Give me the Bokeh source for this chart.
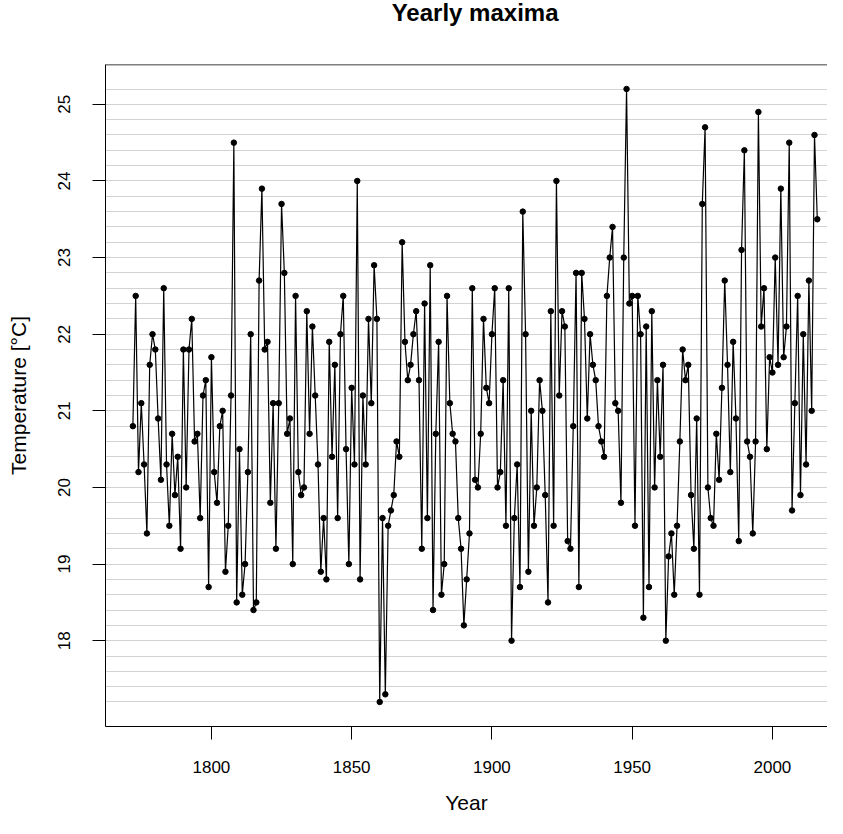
from bokeh.plotting import figure
from bokeh.layouts import column
from bokeh.models import Range1d, FixedTicker, Label, Span
from bokeh.embed import file_html
from bokeh.resources import INLINE

first_year = 1772

temps_1700s = [20.8, 22.5, 20.2, 21.1, 20.3, 19.4, 21.6, 22.0, 21.8, 20.9,
               20.1, 22.6, 20.3, 19.5, 20.7, 19.9, 20.4, 19.2, 21.8, 20.0,
               21.8, 22.2, 20.6, 20.7, 19.6, 21.2, 21.4, 18.7]
temps_1800s = [21.7, 20.2, 19.8, 20.8, 21.0, 18.9, 19.5, 21.2, 24.5, 18.5,
               20.5, 18.6, 19.0, 20.2, 22.0, 18.4, 18.5, 22.7, 23.9, 21.8,
               21.9, 19.8, 21.1, 19.2, 21.1, 23.7, 22.8, 20.7, 20.9, 19.0,
               22.5, 20.2, 19.9, 20.0, 22.3, 20.7, 22.1, 21.2, 20.3, 18.9,
               19.6, 18.8, 21.9, 20.4, 21.6, 19.6, 22.0, 22.5, 20.5, 19.0,
               21.3, 20.3, 24.0, 18.8, 21.2, 20.3, 22.2, 21.1, 22.9, 22.2,
               17.2, 19.6, 17.3, 19.5, 19.7, 19.9, 20.6, 20.4, 23.2, 21.9,
               21.4, 21.6, 22.0, 22.3, 21.4, 19.2, 22.4, 19.6, 22.9, 18.4,
               20.7, 21.9, 18.6, 19.0, 22.5, 21.1, 20.7, 20.6, 19.6, 19.2,
               18.2, 18.8, 19.4, 22.6, 20.1, 20.0, 20.7, 22.2, 21.3, 21.1]
temps_1900s = [22.0, 22.6, 20.0, 20.2, 21.4, 19.5, 22.6, 18.0, 19.6, 20.3,
               18.7, 23.6, 22.0, 18.9, 21.0, 19.5, 20.0, 21.4, 21.0, 19.9,
               18.5, 22.3, 19.5, 24.0, 21.2, 22.3, 22.1, 19.3, 19.2, 20.8,
               22.8, 18.7, 22.8, 22.2, 20.9, 22.0, 21.6, 21.4, 20.8, 20.6,
               20.4, 22.5, 23.0, 23.4, 21.1, 21.0, 19.8, 23.0, 25.2, 22.4,
               22.5, 19.5, 22.5, 22.0, 18.3, 22.1, 18.7, 22.3, 20.0, 21.4,
               20.4, 21.6, 18.0, 19.1, 19.4, 18.6, 19.5, 20.6, 21.8, 21.4,
               21.6, 19.9, 19.2, 20.9, 18.6, 23.7, 24.7, 20.0, 19.6, 19.5,
               20.7, 20.1, 21.3, 22.7, 21.6, 20.2, 21.9, 20.9, 19.3, 23.1,
               24.4, 20.6, 20.4, 19.4, 20.6, 24.9, 22.1, 22.6, 20.5, 21.7]
temps_2000s = [21.5, 23.0, 21.6, 23.9, 21.7, 22.1, 24.5, 19.7, 21.1, 22.5,
               19.9, 22.0, 20.3, 22.7, 21.0, 24.6, 23.5]

temps = temps_1700s + temps_1800s + temps_1900s + temps_2000s
years = list(range(first_year, first_year + len(temps)))

title_text = "Yearly maxima"
x_label = "Year"
y_label = "Temperature [°C]"
x_tick_values = [1800, 1850, 1900, 1950, 2000]
y_tick_values = [18, 19, 20, 21, 22, 23, 24, 25]
grid_levels = [round(17.2 + 0.2 * i, 1) for i in range(41)]

FONT = "Liberation Sans"

# plot box (R's default 4% extension of the data range)
BOX_X0, BOX_X1 = 1762.24, 2025.76
BOX_Y0, BOX_Y1 = 16.88, 25.52
PX_PER_YEAR = 2.805

W = 827
TITLE_H = 44
MAIN_H = 818 - TITLE_H
BORDER_LEFT = 105
BORDER_TOP = 20
BORDER_BOTTOM = 92
frame_w = W - BORDER_LEFT
x_range = Range1d(BOX_X0, BOX_X0 + frame_w / PX_PER_YEAR)

# ---- title strip (shares the x scale of the plot) ----------------------
t = figure(width=W, height=TITLE_H, output_backend="svg", toolbar_location=None,
           x_range=x_range, y_range=Range1d(0, TITLE_H),
           x_axis_type=None, y_axis_type=None,
           min_border_left=BORDER_LEFT, min_border_right=0,
           min_border_top=0, min_border_bottom=0)
t.outline_line_color = None
t.xgrid.visible = False
t.ygrid.visible = False
t.add_layout(Label(x=(BOX_X0 + BOX_X1) / 2, y=TITLE_H - 12, text=title_text,
                   text_align="center", text_baseline="middle",
                   text_font=FONT, text_font_size="24px", text_font_style="bold",
                   text_color="black"))

# ---- main plot ---------------------------------------------------------
p = figure(width=W, height=MAIN_H, output_backend="svg", toolbar_location=None,
           x_range=x_range, y_range=Range1d(BOX_Y0, BOX_Y1),
           min_border_left=BORDER_LEFT, min_border_right=0, min_border_top=BORDER_TOP,
           min_border_bottom=BORDER_BOTTOM,
           x_axis_label=x_label, y_axis_label=y_label)
p.outline_line_color = None
p.background_fill_color = "white"
p.border_fill_color = "white"

p.xgrid.visible = False
p.ygrid.ticker = FixedTicker(ticks=grid_levels)
p.ygrid.grid_line_color = "#d3d3d3"
p.ygrid.grid_line_width = 1

p.xaxis.ticker = FixedTicker(ticks=x_tick_values)
p.yaxis.ticker = FixedTicker(ticks=y_tick_values)
for ax in list(p.xaxis) + list(p.yaxis):
    ax.axis_line_color = "black"
    ax.axis_line_width = 1
    ax.major_tick_line_color = "black"
    ax.major_tick_out = 13
    ax.major_tick_in = 0
    ax.minor_tick_line_color = None
    ax.major_label_text_font = FONT
    ax.major_label_text_font_size = "17px"
    ax.major_label_text_color = "black"
    ax.axis_label_text_font = FONT
    ax.axis_label_text_font_size = "21px"
    ax.axis_label_text_font_style = "normal"
    ax.axis_label_text_color = "black"
p.yaxis.major_label_orientation = "vertical"
p.xaxis.major_label_standoff = 21
p.yaxis.major_label_standoff = 22
p.xaxis.axis_label_standoff = 15
p.yaxis.axis_label_standoff = 26

# top side of the box (its right side lies beyond the picture)
p.add_layout(Span(location=BOX_Y1, dimension="width", line_color="black", line_width=1.5))

p.line(years, temps, line_color="black", line_width=1.2)
p.scatter(years, temps, size=5.5, fill_color="black", line_color="black")

layout = column(t, p, spacing=0)
open("out.html", "w").write(file_html(layout, INLINE))
